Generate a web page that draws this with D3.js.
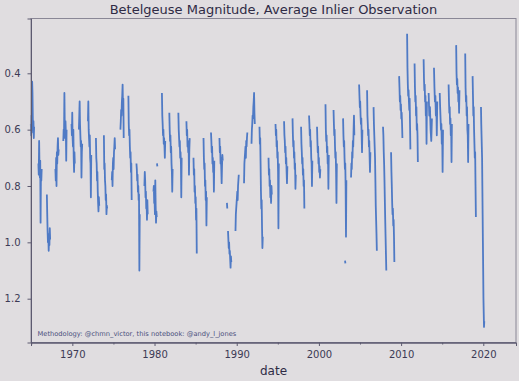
<!DOCTYPE html>
<html>
<head>
<meta charset="utf-8">
<script src="https://cdn.jsdelivr.net/npm/d3@7"></script>
<style>
  html, body { margin: 0; padding: 0; background: #e0dde0; }
  svg { display: block; }
  text { font-family: "DejaVu Sans", sans-serif; }
</style>
</head>
<body>
<svg id="chart" width="519" height="381"></svg>
<script>
// ---- data ----
const titleText = "Betelgeuse Magnitude, Average Inlier Observation";
const xLabel = "date";
const creditText = "Methodology: @chmn_victor, this notebook: @andy_l_jones";
const xTickYears = [1970, 1980, 1990, 2000, 2010, 2020];
const xMinorYears = [1965, 1975, 1985, 1995, 2005, 2015];
const yTickValues = [0.4, 0.6, 0.8, 1.0, 1.2];

// centre (decimal year) of each observing season
const seasonYear = [
  1965.15, 1966.07, 1967.10, 1968.14, 1969.10, 1970.10, 1971.00, 1972.10, 1973.07, 1974.04,
  1975.00, 1976.05, 1977.02, 1978.00, 1978.97, 1980.07, 1980.32, 1981.10, 1982.00, 1983.10,
  1984.08, 1984.94, 1986.16, 1987.07, 1988.10, 1988.83, 1989.14, 1990.05, 1991.09, 1992.00,
  1992.97, 1994.07, 1994.92, 1995.96, 1996.99, 1998.03, 1999.00, 1999.97, 2001.00, 2001.98,
  2003.14, 2003.20, 2004.11, 2005.09, 2006.06, 2006.85, 2008.00, 2008.98, 2009.96, 2010.93,
  2011.84, 2012.94, 2013.55, 2014.20, 2014.90, 2015.98, 2016.90, 2018.00, 2018.90, 2019.92
];
// observed average magnitudes, in time order, within each season
const seasonMag = [
  [0.58,0.62,0.55,0.60,0.43,0.47,0.56,0.61,0.57,0.63,0.59],
  [0.72,0.76,0.64,0.73,0.77,0.71,0.93,0.75,0.78,0.74],
  [0.83,0.90,0.96,1.00,0.97,1.03,0.98,1.01,0.95,0.99],
  [0.74,0.78,0.70,0.80,0.68,0.72,0.66,0.63,0.69,0.67],
  [0.64,0.60,0.62,0.47,0.58,0.63,0.57,0.61,0.71,0.60],
  [0.58,0.62,0.54,0.63,0.66,0.60,0.70,0.75,0.68,0.72],
  [0.60,0.55,0.50,0.58,0.62,0.66,0.64,0.77,0.68,0.65],
  [0.57,0.50,0.60,0.63,0.66,0.62,0.70,0.72,0.84,0.69],
  [0.63,0.70,0.72,0.78,0.75,0.82,0.86,0.89,0.84,0.87],
  [0.62,0.74,0.72,0.78,0.80,0.85,0.83,0.90,0.87,0.88],
  [0.78,0.75,0.80,0.72,0.70,0.74,0.68,0.66,0.63,0.67],
  [0.60,0.57,0.53,0.55,0.50,0.48,0.44,0.52,0.49,0.63],
  [0.48,0.58,0.62,0.60,0.66,0.70,0.68,0.75,0.72,0.85],
  [0.72,0.74,0.78,0.76,0.82,0.80,0.85,0.83,1.10,0.90],
  [0.80,0.75,0.78,0.84,0.82,0.88,0.86,0.92,0.85,0.90],
  [0.82,0.80,0.86,0.84,0.90,0.78,0.87,0.93,0.89,0.91],
  [0.72,0.73],
  [0.47,0.55,0.58,0.62,0.60,0.65,0.63,0.66,0.70,0.64],
  [0.54,0.60,0.64,0.62,0.68,0.66,0.72,0.75,0.82,0.74],
  [0.54,0.60,0.63,0.66,0.64,0.70,0.68,0.72,0.84,0.70],
  [0.57,0.62,0.60,0.66,0.64,0.68,0.65,0.76,0.67,0.63],
  [0.70,0.76,0.74,0.82,0.80,0.86,0.84,0.92,0.88,1.04],
  [0.63,0.70,0.74,0.72,0.80,0.78,0.85,0.82,0.94,0.84],
  [0.61,0.64,0.68,0.66,0.72,0.70,0.75,0.73,0.82,0.71],
  [0.63,0.68,0.66,0.72,0.70,0.74,0.79,0.73,0.69,0.71],
  [0.86,0.88],
  [0.96,0.99,1.02,1.00,1.04,1.03,1.06,1.09,1.05,1.07],
  [0.96,0.90,0.88,0.86,0.84,0.82,0.85,0.80,0.78,0.76],
  [0.79,0.72,0.70,0.68,0.66,0.70,0.64,0.66,0.63,0.61],
  [0.65,0.60,0.58,0.55,0.56,0.52,0.50,0.47,0.54,0.58],
  [0.59,0.65,0.63,0.72,0.82,0.88,0.85,0.95,1.02,0.98],
  [0.70,0.76,0.74,0.80,0.78,0.84,0.82,0.86,0.80,0.83],
  [0.58,0.62,0.60,0.66,0.64,0.70,0.68,0.75,0.95,0.72],
  [0.57,0.62,0.64,0.68,0.66,0.72,0.70,0.75,0.79,0.73],
  [0.56,0.62,0.66,0.64,0.70,0.68,0.74,0.72,0.81,0.76],
  [0.59,0.65,0.68,0.72,0.70,0.76,0.74,0.80,0.78,0.88],
  [0.55,0.58,0.62,0.60,0.66,0.64,0.70,0.72,0.80,0.71],
  [0.59,0.64,0.68,0.66,0.72,0.70,0.75,0.73,0.77,0.74],
  [0.51,0.60,0.64,0.62,0.68,0.66,0.72,0.70,0.81,0.69],
  [0.53,0.58,0.62,0.60,0.66,0.70,0.68,0.75,0.86,0.72],
  [0.56,0.62,0.66,0.64,0.70,0.74,0.72,0.80,0.98,0.78],
  [1.065,1.075],
  [0.77,0.72,0.74,0.68,0.70,0.64,0.66,0.60,0.55,0.62],
  [0.44,0.48,0.52,0.50,0.55,0.58,0.56,0.62,0.68,0.60],
  [0.46,0.55,0.58,0.62,0.60,0.66,0.64,0.70,0.75,0.68],
  [0.52,0.58,0.62,0.66,0.70,0.78,0.87,0.92,0.97,1.03],
  [0.59,0.62,0.68,0.72,0.78,0.85,0.92,0.98,1.04,1.10],
  [0.68,0.75,0.80,0.86,0.90,0.88,0.94,0.92,0.98,1.07],
  [0.41,0.45,0.50,0.48,0.53,0.51,0.56,0.54,0.58,0.63],
  [0.26,0.38,0.44,0.48,0.46,0.50,0.53,0.49,0.58,0.67],
  [0.365,0.45,0.50,0.48,0.55,0.52,0.60,0.58,0.62,0.715],
  [0.35,0.42,0.46,0.44,0.50,0.48,0.55,0.52,0.65,0.50],
  [0.47,0.55,0.52,0.60,0.64,0.56],
  [0.38,0.45,0.50,0.48,0.55,0.52,0.62,0.50],
  [0.47,0.52,0.56,0.60,0.58,0.65,0.62,0.75,0.60],
  [0.44,0.50,0.54,0.52,0.58,0.56,0.62,0.60,0.715,0.58],
  [0.30,0.40,0.44,0.42,0.47,0.45,0.50,0.48,0.54,0.46],
  [0.33,0.45,0.50,0.48,0.55,0.52,0.60,0.62,0.715,0.58],
  [0.41,0.48,0.55,0.52,0.60,0.65,0.70,0.68,0.80,0.91],
  [0.52,0.58,0.62,0.66,0.70,0.80,0.90,1.00,1.10,1.20,1.25,1.30,1.28]
];

// ---- layout ----
const W = 519, H = 381;
const plot = { left: 31, right: 516, top: 18.5, bottom: 342.5 };
const svg = d3.select("#chart");

const x = d3.scaleLinear().domain([1964.97, 2023.98]).range([plot.left, plot.right]);
const y = d3.scaleLinear().domain([0.2055, 1.3555]).range([plot.top, plot.bottom]);

// background
svg.append("rect").attr("width", W).attr("height", H).attr("fill", "#e0dde0");

// build the series: points inside a season, gap between seasons
const series = [];
seasonYear.forEach((yr, i) => {
  const vals = seasonMag[i];
  const span = vals.length <= 2 ? 0.04 : 0.4;
  vals.forEach((v, j) => {
    const t = yr - span / 2 + (vals.length > 1 ? span * j / (vals.length - 1) : 0);
    series.push({ t, v });
  });
  series.push(null);
});

const line = d3.line()
  .defined(d => d !== null)
  .x(d => x(d.t))
  .y(d => y(d.v));

svg.append("path")
  .datum(series)
  .attr("fill", "none")
  .attr("stroke", "#3f6fc2")
  .attr("stroke-opacity", 0.9)
  .attr("stroke-width", 1.8)
  .attr("stroke-linejoin", "round")
  .attr("d", line);

// frame
svg.append("rect")
  .attr("x", plot.left).attr("y", plot.top)
  .attr("width", plot.right - plot.left).attr("height", plot.bottom - plot.top)
  .attr("fill", "none").attr("stroke", "#8a8796").attr("stroke-width", 1);

const tickColor = "#3c3a55";

// x axis
const xAxis = svg.append("g")
  .attr("transform", `translate(0,${plot.bottom})`)
  .call(d3.axisBottom(x).tickValues(xTickYears).tickFormat(d3.format("d")).tickSize(3.5).tickPadding(5));
const xMinor = svg.append("g")
  .attr("transform", `translate(0,${plot.bottom})`)
  .call(d3.axisBottom(x).tickValues(xMinorYears).tickFormat("").tickSize(2));

// y axis
const yAxis = svg.append("g")
  .attr("transform", `translate(${plot.left},0)`)
  .call(d3.axisLeft(y).tickValues(yTickValues).tickFormat(d3.format(".1f")).tickSize(3.5).tickPadding(7));

[xAxis, xMinor, yAxis].forEach(g => {
  g.select(".domain").attr("stroke", "#5d5a70").attr("stroke-width", 1);
  g.selectAll(".tick line").attr("stroke", "#5d5a70");
  g.selectAll(".tick text").attr("fill", tickColor).attr("font-size", 10)
    .attr("font-family", "DejaVu Sans, sans-serif");
});

// title
svg.append("text")
  .attr("x", (plot.left + plot.right) / 2).attr("y", 13.5)
  .attr("text-anchor", "middle").attr("font-size", 13)
  .attr("fill", "#2f2b45").text(titleText);

// x label
svg.append("text")
  .attr("x", (plot.left + plot.right) / 2).attr("y", 375)
  .attr("text-anchor", "middle").attr("font-size", 12)
  .attr("fill", "#2f2b45").text(xLabel);

// credit
svg.append("text")
  .attr("x", 37.5).attr("y", 336)
  .attr("font-size", 6.7)
  .attr("fill", "#4a4f7c").text(creditText);
</script>
</body>
</html>
